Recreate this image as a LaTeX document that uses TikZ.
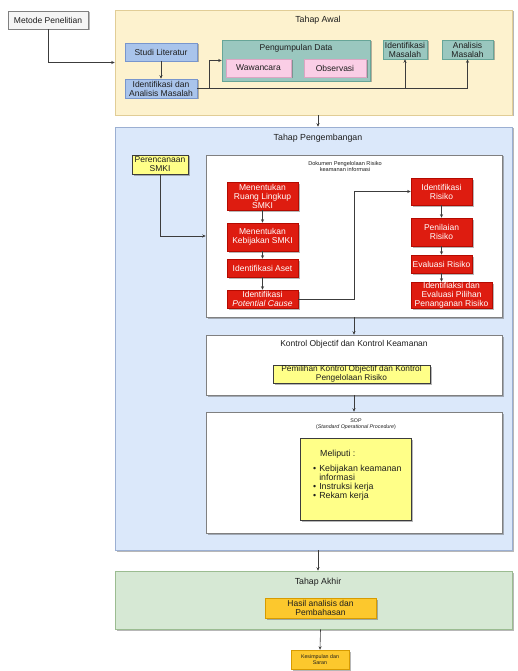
\documentclass[tikz,border=0pt]{standalone}
\usepackage{fontspec}
\setmainfont{Liberation Sans}
\usetikzlibrary{arrows.meta,shadows,calc}
\definecolor{awalfill}{RGB}{253,242,206}
\definecolor{awalline}{RGB}{225,205,150}
\definecolor{devfill}{RGB}{219,232,250}
\definecolor{devline}{RGB}{155,175,210}
\definecolor{akhirfill}{RGB}{214,232,212}
\definecolor{akhirline}{RGB}{155,188,145}
\definecolor{bluebox}{RGB}{169,196,235}
\definecolor{blueline}{RGB}{120,150,205}
\definecolor{tealbox}{RGB}{154,199,191}
\definecolor{tealline}{RGB}{103,165,152}
\definecolor{pinkbox}{RGB}{250,206,230}
\definecolor{pinkline}{RGB}{220,165,195}
\definecolor{redbox}{RGB}{222,28,16}
\definecolor{redline}{RGB}{180,10,0}
\definecolor{notebox}{RGB}{255,255,136}
\definecolor{orangebox}{RGB}{252,200,45}
\definecolor{orangeline}{RGB}{215,155,0}
\definecolor{linegray}{RGB}{60,60,60}
\definecolor{textgray}{RGB}{30,30,30}

\begin{document}
\begin{tikzpicture}[x=1pt,y=-1pt,
  shade/.style={drop shadow={shadow xshift=1.5pt,shadow yshift=-1.5pt,opacity=0.4,fill=black!70}},
  box/.style={draw,line width=0.5pt,inner sep=0pt,align=center,text=textgray,
    font=\fontsize{8.5}{9}\selectfont,shade},
  panel/.style={draw,line width=0.5pt,inner sep=0pt,shade},
  title/.style={text=textgray,font=\fontsize{8.8}{9}\selectfont},
  small/.style={text=textgray,align=center,font=\fontsize{5.6}{6}\selectfont},
  bluenode/.style={box,fill=bluebox,draw=blueline,minimum width=72,minimum height=18},
  pinknode/.style={box,fill=pinkbox,draw=pinkline,minimum height=18},
  tealnode/.style={box,fill=tealbox,draw=tealline,minimum height=19},
  rednode/.style={box,fill=redbox,draw=redline,text=white,minimum width=71},
  notenode/.style={box,fill=notebox,draw=linegray},
  orangenode/.style={box,fill=orangebox,draw=orangeline},
  whitenode/.style={panel,fill=white,draw=gray,minimum width=296},
  flow/.style={draw=linegray,line width=0.6pt,-{Stealth[length=3.5pt,width=3pt]}}
]

% Page
\useasboundingbox (0,0) rectangle (518,671);

% Start
\node[box,fill=black!4,draw=gray,minimum width=80,minimum height=18] (metode) at (48,20) {Metode Penelitian};

% Tahap Awal
\node[panel,fill=awalfill,draw=awalline,minimum width=397,minimum height=105] (awal) at (313.5,62.5) {};
\node[title] (awaltitle) at (318,20) {Tahap Awal};
\node[bluenode] (studi) at (161,52) {Studi Literatur};
\node[bluenode,minimum height=19] (ida) at (161,88.5) {Identifikasi dan\\Analisis Masalah};
\node[tealnode,minimum width=148,minimum height=41] (pengumpulan) at (296,60.5) {};
\node[title,font=\fontsize{8.5}{9}\selectfont] (pengumpulantitle) at (296,48) {Pengumpulan Data};
\node[pinknode,minimum width=65] (wawancara) at (258.5,68) {Wawancara};
\node[pinknode,minimum width=62] (observasi) at (335,68) {Observasi};
\node[tealnode,minimum width=44] (idmasalah) at (405,49.5) {Identifikasi\\Masalah};
\node[tealnode,minimum width=51] (anmasalah) at (467.5,49.5) {Analisis\\Masalah};

% Tahap Pengembangan
\node[panel,fill=devfill,draw=devline,minimum width=397,minimum height=423] (dev) at (313.5,338.5) {};
\node[title] (devtitle) at (318,138) {Tahap Pengembangan};
\node[notenode,minimum width=56,minimum height=19] (perencanaan) at (160,164.5) {Perencanaan\\SMKI};

% Dokumen pengelolaan risiko
\node[whitenode,minimum height=162] (dokumen) at (354,236) {};
\node[small] (dokumentitle) at (345,166) {Dokumen Pengelolaan Risiko\\keamanan informasi};
\node[rednode,minimum height=28] (ruang) at (262.5,196) {Menentukan\\Ruang Lingkup\\SMKI};
\node[rednode,minimum height=28] (kebijakan) at (262.5,237) {Menentukan\\Kebijakan SMKI};
\node[rednode,minimum height=18] (aset) at (262.5,268) {Identifikasi Aset};
\node[rednode,minimum height=18] (cause) at (262.5,299) {Identifikasi\\\textit{Potential Cause}};
\node[rednode,minimum width=61,minimum height=27] (risiko) at (441.5,191.5) {Identifikasi\\Risiko};
\node[rednode,minimum width=61,minimum height=28] (penilaian) at (441.5,232) {Penilaian\\Risiko};
\node[rednode,minimum width=61,minimum height=18] (evaluasi) at (441.5,264) {Evaluasi Risiko};
\node[rednode,minimum width=81,minimum height=26] (pilihan) at (451.5,295) {Identifiaksi dan\\Evaluasi Pilihan\\Penanganan Risiko};

% Kontrol
\node[whitenode,minimum height=60] (kontrol) at (354,365) {};
\node[title,font=\fontsize{8.5}{9}\selectfont] (kontroltitle) at (354,344) {Kontrol Objectif dan Kontrol Keamanan};
\node[notenode,minimum width=157,minimum height=18,font=\fontsize{8.3}{8.6}\selectfont] (pemilihan) at (351.5,374) {Pemilihan Kontrol Objectif dan Kontrol\\Pengelolaan Risiko};

% SOP
\node[whitenode,minimum height=121] (sop) at (354,472.5) {};
\node[small,font=\fontsize{5.3}{6.2}\selectfont] (soptitle) at (356,424) {SOP\\(\textit{Standard Operational Procedure})};
\node[notenode,minimum width=111,minimum height=82] (meliputi) at (355.5,479) {};
\node[anchor=base west,text=textgray,font=\fontsize{8.8}{8.7}\selectfont,inner sep=0pt] (meliputitext) at (313,456)
  {\begin{tabular}[t]{@{}l@{\hspace{3pt}}l@{}}
    \multicolumn{2}{@{}l}{\hspace{7pt}Meliputi :}\\[7pt]
    \textbullet & Kebijakan keamanan\\
     & informasi\\
    \textbullet & Instruksi kerja\\
    \textbullet & Rekam kerja
  \end{tabular}};

% Tahap Akhir
\node[panel,fill=akhirfill,draw=akhirline,minimum width=397,minimum height=58] (akhir) at (313.5,600) {};
\node[title] (akhirtitle) at (318,582) {Tahap Akhir};
\node[orangenode,minimum width=111,minimum height=20] (hasil) at (320.5,608) {Hasil analisis dan\\Pembahasan};
\node[orangenode,minimum width=58,minimum height=19,font=\fontsize{5.3}{6}\selectfont] (kesimpulan) at (320,659.5) {Kesimpulan dan\\Saran};

% Connectors
\draw[flow] (metode.south) |- (awal.west);
\draw[flow] (studi.south) -- (ida.north);
\draw[flow] (ida.east) -- ++(12,0) |- (pengumpulan.west);
\draw[flow] (ida.east) -| (idmasalah.south);
\draw[flow] (ida.east) -| (anmasalah.south);
\draw[flow] (awaltitle |- awal.south) -- (awaltitle |- dev.north);
\draw[flow] (perencanaan.south) |- (dokumen.west);
\foreach \a/\b in {ruang/kebijakan,kebijakan/aset,aset/cause,risiko/penilaian,penilaian/evaluasi}
  \draw[flow] (\a.south) -- (\b.north);
\draw[flow] (evaluasi.south) -- (evaluasi.south |- pilihan.north);
\coordinate (bend) at ($(cause.east)!0.5!(risiko.west)$);
\draw[flow] (cause.east) -| (bend) |- (risiko.west);
\draw[flow] (dokumen.south) -- (kontrol.north);
\draw[flow] (kontrol.south) -- (sop.north);
\draw[flow] (devtitle |- dev.south) -- (devtitle |- akhir.north);
\draw[flow] (hasil |- akhir.south) -- (kesimpulan.north);

\end{tikzpicture}
\end{document}
